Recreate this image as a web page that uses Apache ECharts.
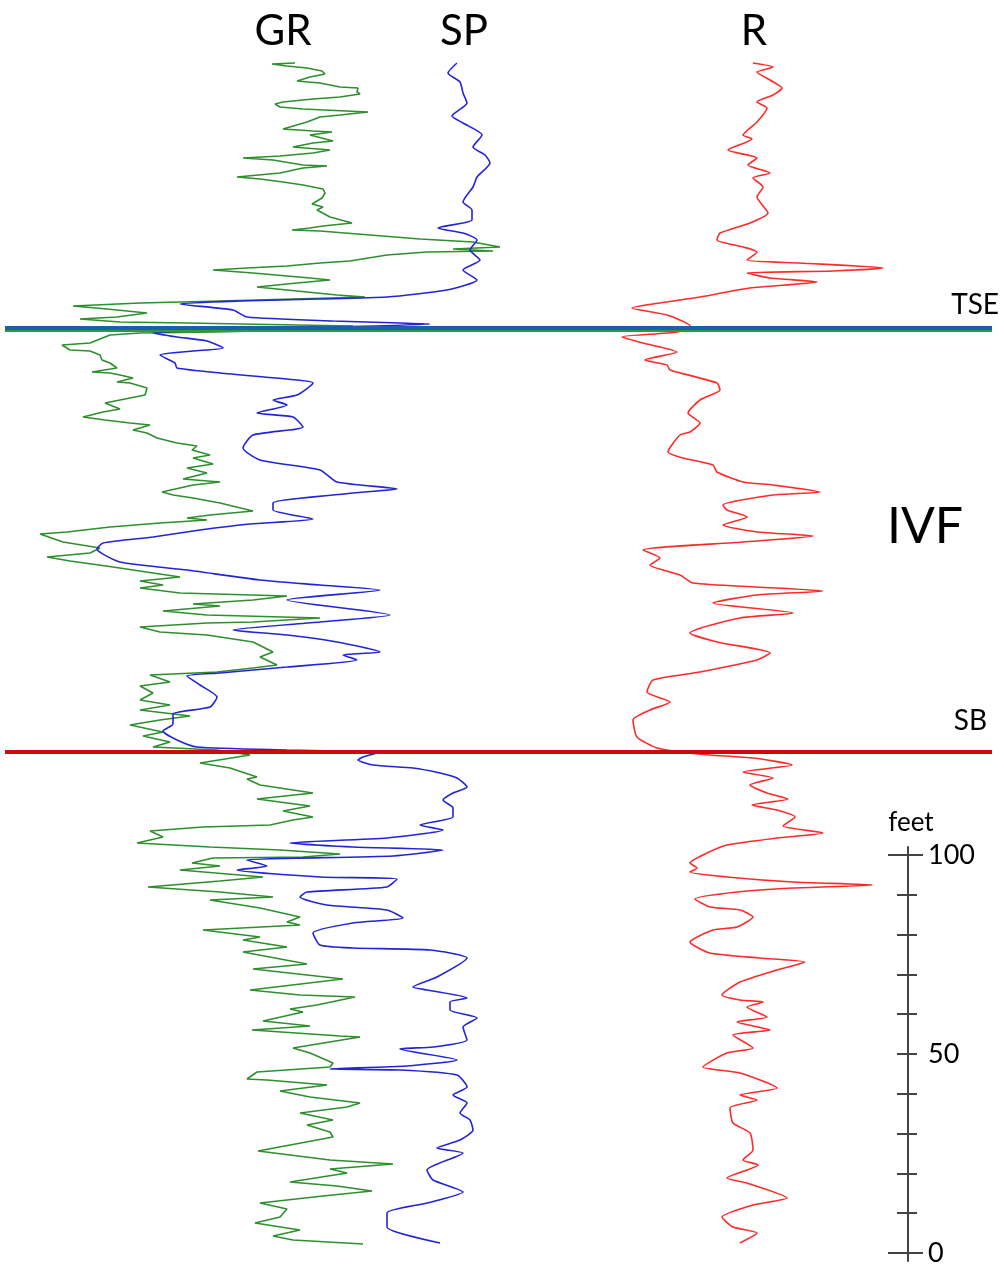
<!DOCTYPE html>
<html>
<head>
<meta charset="utf-8">
<script src="https://cdn.jsdelivr.net/npm/echarts@6/dist/echarts.min.js"></script>
<style>
  html, body { margin: 0; padding: 0; background: #fff; }
  #chart { width: 1004px; height: 1268px; }
</style>
</head>
<body>
<div id="chart"></div>
<script>
// log readings: [reading (relative track units 0-100), depth below top (ft)]
const grLog = [
  [29.5, 0.75], [27.2, 1], [28.7, 1.5], [30.7, 2], [32.2, 2.75], [32.5, 3.5], [31, 4.25], [29.7, 5.25],
  [32, 5.75], [34, 6.75], [35.8, 7], [35.7, 8], [36, 8.5], [34, 9.25], [31.3, 9.75], [28.3, 10.5],
  [27.5, 11], [28, 11.75], [30.3, 12.25], [36.8, 13], [34, 13.75], [32, 14.25], [30.7, 15.5], [28.3, 17.25],
  [31.3, 17.75], [33.2, 18], [31, 18.75], [33.3, 20.25], [31.3, 20.75], [29.3, 21.75], [33, 22.5], [31.3, 23.25],
  [28, 24], [24.3, 24.5], [27.3, 25], [30.3, 26.25], [32.7, 26.5], [30.3, 27], [28, 28.25], [23.7, 29.25],
  [26, 29.75], [28.3, 30.5], [30.3, 31.25], [32.3, 32.25], [32.5, 33.25], [32.2, 34.5], [31.2, 36], [32.3, 36.75],
  [31.7, 37.5], [33, 39.25], [35.2, 40.75], [32.3, 41.5], [31, 42], [29.2, 42.5], [32, 42.75], [37, 43.75],
  [42, 44.75], [47.3, 45.5], [50, 46.75], [45.3, 47.25], [49.3, 47.75], [42.7, 48], [38.7, 48.75], [35, 50.25],
  [32, 50.75], [28.7, 51.5], [24.7, 52], [21.3, 52.5], [25.3, 53.25], [31, 54.5], [33, 55], [29.7, 55.75],
  [25.7, 56.75], [28.7, 57.5], [33.7, 58.75], [36.5, 59.25], [29.3, 59.75], [22, 60.25], [14, 60.75], [7.3, 61.5],
  [10.7, 62.25], [14.7, 63.25], [11.7, 64.25], [8, 64.75], [12, 65.5], [18.7, 65.75], [29.7, 66.25], [35.3, 66.5],
  [33, 67.25], [21.7, 68], [14, 68.25], [11, 68.75], [9, 70.75], [6.2, 71.25], [7, 72.5], [9, 72.75],
  [10, 73.75], [10.2, 75], [11, 75.75], [11.7, 77], [9.2, 78], [11, 78.25], [12, 78.75], [13.3, 79.5],
  [11.7, 80.5], [13, 80.75], [14.7, 82], [14.5, 83.75], [12, 85], [10.5, 85.75], [12, 87.25], [10.3, 88],
  [8.3, 89.25], [10.5, 90], [13, 90.75], [15, 91.25], [13.3, 92.5], [14.7, 93.25], [15.7, 94.5], [17.7, 95.75],
  [19.7, 96.5], [19.2, 97.5], [21, 98.75], [19.3, 99.5], [21.3, 101], [18.7, 102], [20.7, 103.25], [18.3, 104.75],
  [22, 105.5], [19.3, 106.25], [16.2, 108], [17.3, 108.75], [19.3, 109.5], [22, 110.75], [25.3, 112.75], [21, 113.75],
  [18.7, 114.5], [20.7, 115], [16, 115.75], [11, 116.75], [6.7, 118], [4, 118.5], [6.3, 120.5], [10, 122],
  [9, 123.25], [4.7, 124.25], [7, 125.25], [11.3, 126.75], [15.3, 128.25], [18, 129.25], [14, 130.25], [16.3, 131.25],
  [14, 132], [18, 133.25], [28.7, 134], [25.3, 135], [19.3, 136], [22, 136.5], [16.3, 137.75], [20.7, 138.75],
  [32, 139.5], [25.3, 140.5], [20.7, 140.75], [14, 141.75], [16, 143], [20.7, 143.75], [25.3, 145.5], [27.3, 148],
  [26, 149.25], [27.7, 151.25], [25.3, 152], [21.7, 153], [15, 153.75], [17, 155.5], [14, 156.5], [15.3, 158.25],
  [14, 160], [17, 161.25], [14, 162.5], [19, 164], [16, 165], [13, 166.25], [16.3, 168], [14.3, 169],
  [17, 170.5], [15.3, 171.75], [21.7, 172.5], [25, 173.75], [20, 175.75], [23, 177], [25.7, 179.25], [24.7, 179.75],
  [26, 181.25], [31.3, 183.25], [25.7, 184.75], [31, 186.5], [28.3, 187.75], [31.3, 189.25], [29.3, 190], [27, 191.25],
  [20.3, 191.75], [15, 192.75], [16.3, 194.25], [13.7, 195.75], [21, 196.75], [28, 197.5], [34, 198.5], [30.3, 199.25],
  [21.3, 199.5], [19.2, 200.75], [22, 201.5], [18, 202.5], [26.3, 204.25], [22, 205.25], [14.8, 206.75], [22, 208],
  [27.3, 209.25], [21, 210], [26, 212], [30, 214.25], [28.7, 215.5], [30, 216.25], [20.3, 217.5], [26, 219.25],
  [24.3, 220], [28.7, 221.75], [24.3, 223], [30.7, 226], [25.3, 227.25], [34.3, 229.75], [25, 232.5], [30, 233.75],
  [35.5, 234.25], [31.7, 236.25], [29, 237.25], [30.3, 238], [26.3, 240.25], [31, 241.5], [25.2, 242.5], [34, 244],
  [36, 244.25], [29.3, 247], [31, 248.25], [33.3, 250.75], [33, 251.75], [25.7, 253], [24.7, 254.75], [26.7, 255],
  [32.7, 256.25], [28, 257.75], [31, 259.25], [36, 260.75], [34.7, 261.75], [30, 263.25], [33.3, 265], [30.7, 266.25],
  [33, 268], [33.3, 269.25], [25.8, 272.75], [33, 275], [39.3, 276], [33, 277.25], [34.7, 278.25], [29, 280.5],
  [33.7, 281.5], [37.2, 282.75], [32.3, 284], [26, 285.75], [28.7, 287.25], [28, 289.25], [25.5, 290.75], [30, 292.5],
  [27.3, 294], [29.3, 295], [36.3, 296]
]

const spLog = [
  [45.7, 0.75], [44.8, 3.25], [46, 5.5], [46.3, 8.25], [46.7, 10.75], [45.2, 14], [46.3, 15.75], [48.2, 18.75],
  [47.3, 21.75], [48.5, 23.75], [49, 25.75], [47.7, 29.25], [47.3, 31.75], [46.3, 35.5], [47.2, 37.5], [47.2, 40],
  [43.8, 42], [46.3, 43.25], [47.7, 45], [47, 47.5], [48, 50], [46.3, 52.5], [47.7, 55], [44.7, 57.5],
  [38.7, 59.25], [32, 59.75], [24, 60.25], [18, 61], [23.3, 62.5], [24.7, 64.25], [33.3, 65.25], [40, 65.75],
  [43, 66], [30, 67], [15.3, 68.25], [17.7, 69.25], [20.7, 70.25], [22.3, 72], [19.3, 72.75], [16, 73.75],
  [17.5, 75.75], [17.7, 77], [22, 78.25], [29.7, 80], [31.3, 80.75], [29.7, 83.75], [27.3, 85], [28.7, 86.25],
  [25.7, 88.25], [29.3, 89.25], [30.3, 91.75], [25.3, 93.75], [24.3, 97], [26, 100], [32, 102.5], [33.7, 105.5],
  [39.7, 107.25], [35.3, 108.25], [27.3, 110.75], [27.3, 112.5], [31.3, 114.75], [25, 116], [20, 117.5], [15.3, 119.25],
  [10.3, 120.75], [9.7, 122.25], [12, 125.5], [18.7, 127.5], [26, 130], [32, 131.25], [38, 132.5], [28.7, 135],
  [39, 138.75], [32, 140.5], [23.3, 142.5], [28.7, 143.75], [33.7, 145.5], [38, 148], [34.3, 148.75], [35.7, 150],
  [28.7, 151.75], [22, 153.25], [18.7, 154], [20, 156.25], [21.7, 159.25], [21, 161.75], [17.3, 163.5], [17.3, 166],
  [16.3, 167.75], [17.7, 170], [19.7, 171.75], [28.7, 172.5], [33.7, 172.75], [37.7, 173.25], [36.3, 174.25], [35.8, 175],
  [37.3, 176.25], [41.3, 177], [44, 178.25], [45.7, 179.5], [46.7, 181.75], [45.3, 183.25], [44.3, 185], [45.3, 187],
  [45.3, 189.25], [42, 191.25], [44.3, 192.5], [38.7, 194.5], [29, 195.75], [35.3, 196.75], [44.3, 197.5], [39.3, 199],
  [24.7, 200], [26.7, 201.5], [23.7, 202.5], [32, 204.25], [39.7, 204.75], [38.7, 206.75], [30.7, 208], [30, 209.25],
  [32.7, 211.25], [38.7, 212.5], [40.3, 214.5], [35.3, 215.75], [31.3, 218.25], [32, 221.25], [35.3, 222], [43, 222.5],
  [46.7, 224.5], [43.7, 229.25], [41.3, 231.75], [42.7, 232.5], [46.7, 234.5], [45, 235.5], [45, 237.5], [47.7, 239.5],
  [46.3, 241.75], [46.7, 245], [43.3, 246.75], [40, 247.25], [45.7, 250], [40.7, 251.5], [33, 252.25], [40, 252.5],
  [45.7, 253.75], [46.7, 256.75], [45.3, 258.75], [46.7, 260.75], [46, 263.25], [47, 265], [47.3, 267.5], [46, 270],
  [43.7, 272], [46.3, 273.25], [42.7, 277.5], [43.3, 280], [46.3, 283], [42.7, 285.75], [38.7, 288.25], [38.7, 291.75],
  [44, 295.75]
]

const rLog = [
  [75.3, 0.75], [77.3, 1.75], [75.7, 3], [77, 5], [78.2, 7], [77.3, 8.75], [75.7, 10.5], [76.7, 12],
  [75.7, 15.5], [74.3, 18.75], [75.2, 19.75], [72.8, 22.5], [75.7, 24.5], [74.8, 26.25], [77, 28.25], [75.3, 29.5],
  [76.3, 31.75], [75.7, 34.25], [76.8, 38.25], [75, 40.75], [72, 43.25], [71.7, 45], [74.3, 46.75], [75.7, 48],
  [74.7, 50], [80, 50.75], [88.3, 52], [83.3, 52.75], [74.7, 53.25], [77, 54.5], [81.7, 55.5], [75, 57],
  [70, 59.25], [66, 60.75], [63.2, 62], [66.7, 63.75], [69, 66.5], [67.7, 68], [62.2, 69.25], [64.3, 70.75],
  [67.7, 73], [64.5, 75], [66.7, 76.25], [67, 77.5], [71.7, 80.75], [72, 82.5], [70, 85], [68.8, 88.25],
  [70, 90.75], [69, 93], [68, 93.75], [66.8, 98], [68.3, 99.5], [71.3, 101.25], [71.7, 103], [74.3, 105.5],
  [77.3, 106.25], [82, 108], [77.3, 108.75], [72.3, 111.25], [72.7, 112.5], [74.7, 114.25], [72.3, 116.25], [75.7, 118],
  [81.3, 119], [74.3, 120.5], [64.3, 122.5], [66, 124.5], [65, 126.25], [68, 128.75], [69.3, 130.75], [75.7, 131.75],
  [82.3, 132.75], [75.7, 133.75], [71.3, 135.75], [79.3, 138.25], [74, 139.5], [69, 143.25], [71.7, 145.5], [77, 148.25],
  [75.7, 150], [70, 153], [65.3, 155], [64.7, 158], [67, 160.5], [65, 162.5], [63.3, 165], [63.7, 169.25],
  [65.7, 172], [68, 173], [71, 173.75], [75.3, 174.5], [79.2, 176.25], [74.3, 178], [77.3, 179.5], [75, 181.25],
  [76.7, 183.25], [78.8, 184.75], [75.2, 186.25], [77.7, 187.5], [79.5, 189.25], [78.3, 191.5], [82.3, 193.25], [77.7, 194.5],
  [72.7, 196.25], [70.7, 198.25], [69, 200.75], [69.7, 202], [69, 203], [72.7, 204.25], [79.3, 205.5], [87.2, 206.25],
  [79.3, 207], [73.7, 208], [69.5, 209.75], [71, 211.75], [74, 212.5], [75.3, 214.25], [73.7, 216.75], [71.3, 217.5],
  [69, 220.5], [71, 223.25], [76, 224.5], [80.5, 225.5], [77.7, 227.5], [74, 230.5], [72.2, 233.75], [74, 235],
  [76.3, 235.5], [74.7, 236.75], [76.7, 239.25], [73.7, 240.5], [77, 242.5], [73.3, 243.75], [75.3, 247], [72.7, 248.25],
  [70.3, 251.75], [74, 253.25], [77.7, 257], [74, 258.75], [75.7, 260], [73, 262], [73.3, 265.75], [75, 268.25],
  [75.3, 272.5], [74.3, 275], [75.8, 276.25], [72.7, 279.5], [74.7, 280.75], [78.7, 284.5], [75.3, 286.25], [72.2, 289.25],
  [73.3, 291.75], [75.7, 293.25], [74, 295.75]
]

// surfaces (depth in ft)
const tseDepth = 67
const sbDepth = 173
const trackNames = ['GR', 'SP', 'R']
const scaleTicks = [0, 10, 20, 30, 40, 50, 60, 70, 80, 90, 100]
const scaleLabels = [0, 50, 100]

const chart = echarts.init(document.getElementById('chart'))

const logLine = (name, data, color, smooth) => ({
  name: name,
  type: 'line',
  xAxisIndex: 0,
  yAxisIndex: 0,
  data: data,
  showSymbol: false,
  symbol: 'none',
  smooth: smooth || false,
  animation: false,
  silent: true,
  lineStyle: { color: color, width: 1.6 }
})

const surface = (depth, color, width) => ([
  { coord: [0.5, depth], lineStyle: { color: color, width: width, type: 'solid' } },
  { coord: [99.2, depth] }
])

const rSeries = logLine(trackNames[2], rLog, '#ff2a2a', 0.2)
rSeries.markLine = {
  symbol: 'none',
  silent: true,
  animation: false,
  label: { show: false },
  data: [
    surface(tseDepth + 0.7, '#2e9a3a', 2),
    surface(tseDepth, '#1a5fb0', 4),
    surface(sbDepth, '#cc0c0c', 4)
  ]
}

const text = (str, x, y, size, align) => ({
  type: 'text',
  x: x,
  y: y,
  z: 100,
  style: {
    text: str,
    font: size + 'px Lato, "Open Sans", sans-serif',
    fill: '#000',
    align: align || 'center',
    verticalAlign: 'middle'
  }
})

const scaleAxis = (extra) => Object.assign({
  type: 'value',
  gridIndex: 1,
  position: 'left',
  min: -2,
  max: 102,
  splitLine: { show: false },
  axisLine: { show: false },
  axisLabel: { show: false },
  axisTick: { show: false }
}, extra)

const option = {
  backgroundColor: '#fff',
  animation: false,
  grid: [
    { left: 0, right: 4, top: 60, bottom: 8 },
    { left: 908, right: 95, top: 847, bottom: 7 }
  ],
  xAxis: [
    { type: 'value', gridIndex: 0, min: 0, max: 100, show: false },
    { type: 'value', gridIndex: 1, min: 0, max: 1, show: false }
  ],
  yAxis: [
    { type: 'value', gridIndex: 0, min: 0, max: 300, inverse: true, show: false },
    scaleAxis({
      axisLine: { show: true, onZero: false, lineStyle: { color: '#444', width: 2 } },
      axisTick: { show: true, length: 11, customValues: scaleTicks, lineStyle: { color: '#444', width: 2 } },
      axisLabel: {
        show: true, inside: true, margin: 20, customValues: scaleLabels,
        fontSize: 27, fontFamily: 'Lato, "Open Sans", sans-serif', color: '#000'
      }
    }),
    scaleAxis({
      axisTick: { show: true, inside: true, length: 9, customValues: scaleTicks, lineStyle: { color: '#444', width: 2 } }
    }),
    scaleAxis({
      axisTick: { show: true, length: 20, customValues: [0, 100], lineStyle: { color: '#444', width: 2 } }
    }),
    scaleAxis({
      axisTick: { show: true, inside: true, length: 15, customValues: [0, 100], lineStyle: { color: '#444', width: 2 } }
    })
  ],
  graphic: [
    text(trackNames[0], 283, 31, 42),
    text(trackNames[1], 464, 31, 42),
    text(trackNames[2], 754, 31, 42),
    text('TSE', 999, 305, 28, 'right'),
    text('SB', 987, 721, 28, 'right'),
    text('IVF', 925, 527, 50),
    text('feet', 911, 823, 26)
  ],
  series: [
    logLine(trackNames[0], grLog, '#2f8f2f'),
    logLine(trackNames[1], spLog, '#2323d8', 0.2),
    rSeries
  ]
}

chart.setOption(option)
</script>
</body>
</html>
